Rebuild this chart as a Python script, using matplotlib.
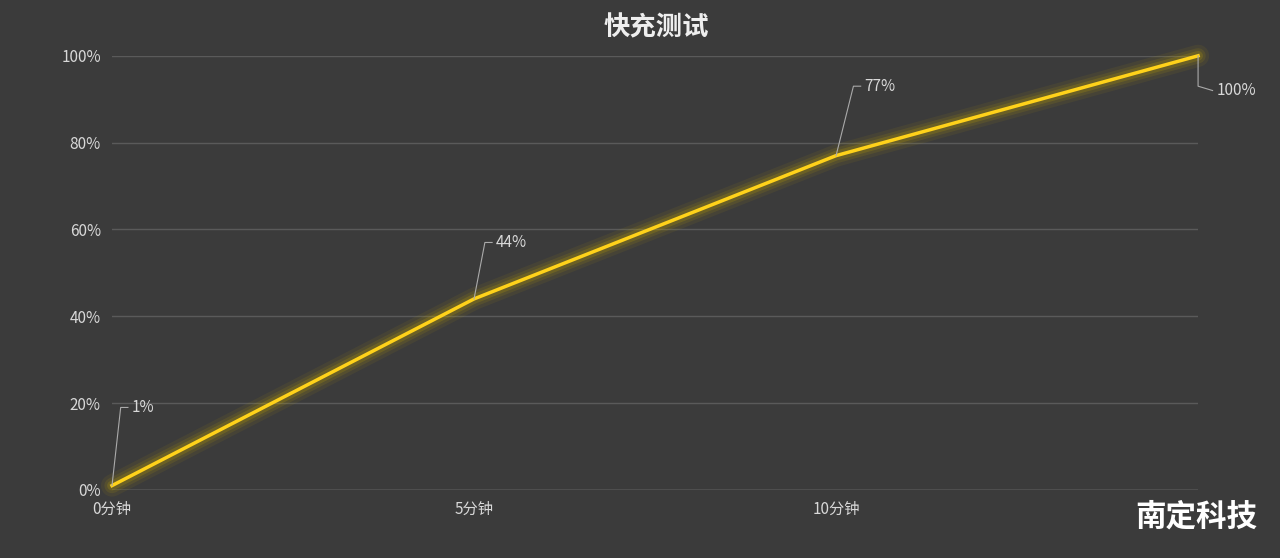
import matplotlib
matplotlib.use("Agg")
import matplotlib.pyplot as plt

plt.rcParams['font.family'] = ['Noto Sans CJK SC', 'DejaVu Sans']

minutes = [0, 5, 10, 15]
percent = [1, 44, 77, 100]
xtick_pos = [0, 5, 10]
xtick_labels = ['0分钟', '5分钟', '10分钟']
ytick_pos = [0, 20, 40, 60, 80, 100]
ytick_labels = ['0%', '20%', '40%', '60%', '80%', '100%']

bg = '#3b3b3b'
fig = plt.figure(figsize=(12.8, 5.58), dpi=100, facecolor=bg)
ax = fig.add_axes([0.0875, 0.122, 0.8485, 0.778], facecolor=bg)
ax.set_xlim(0, 15)
ax.set_ylim(0, 100)
for s in ax.spines.values():
    s.set_visible(False)
ax.set_yticks(ytick_pos)
ax.set_yticklabels(ytick_labels, color='#d8d8d8', fontsize=11)
ax.set_xticks(xtick_pos)
ax.set_xticklabels(xtick_labels, color='#d8d8d8', fontsize=11)
ax.tick_params(length=0, pad=8)
ax.grid(axis='y', color='#5a5a5a', lw=1)
ax.axhline(0, color='#888888', lw=1)

for w, a in [(16, 0.08), (11, 0.12), (7, 0.2)]:
    ax.plot(minutes, percent, color='#c8a800', lw=w, alpha=a, solid_capstyle='round', clip_on=False)
ax.plot(minutes, percent, color='#ffd21a', lw=2.5, clip_on=False)

offs = [(0.4, 18), (0.5, 13), (0.8, 16), (0.2, -8)]
for x, y, (dx, dy) in zip(minutes, percent, offs):
    if x == 15:
        ax.plot([x, x, x + 0.2], [y, y - 7, y - 8], color='#aaaaaa', lw=0.8, clip_on=False)
        ax.text(x + 0.25, y - 8, f'{y}%', color='#d8d8d8', fontsize=11, va='center', ha='left')
    else:
        ax.plot([x, x + dx * 0.3, x + dx * 0.3 + 0.1], [y, y + dy, y + dy], color='#aaaaaa', lw=0.8, clip_on=False)
        ax.text(x + dx * 0.3 + 0.15, y + dy, f'{y}%', color='#d8d8d8', fontsize=11, va='center', ha='left')

fig.text(0.513, 0.95, '快充测试', color='#eeeeee', fontsize=19, ha='center', va='center', fontweight='bold')
fig.text(0.982, 0.075, '南定科技', color='white', fontsize=22, ha='right', va='center', fontweight='bold')

fig.savefig('out.png', facecolor=bg)
